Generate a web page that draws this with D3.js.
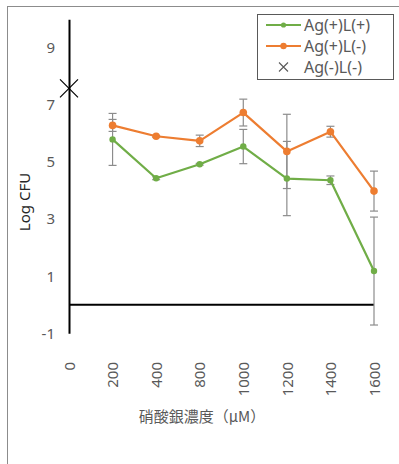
<!DOCTYPE html>
<html>
<head>
<meta charset="utf-8">
<script src="https://cdn.jsdelivr.net/npm/d3@7"></script>
<style>
  body { margin: 0; background: #fff; }
  text { font-family: "Noto Sans CJK JP", "Noto Sans", sans-serif; }
</style>
</head>
<body>
<div id="chart"></div>
<script>
// 硝酸銀濃度 categories (µM)
const categories = ['0', '200', '400', '800', '1000', '1200', '1400', '1600'];
const yTicks = [-1, 1, 3, 5, 7, 9];

// Ag(+)L(+)
const greenVals = [null, 5.79, 4.43, 4.92, 5.54, 4.42, 4.36, 1.18];
const greenErr  = [null, 0.91, 0.05, 0.03, 0.60, 1.30, 0.15, 1.89];
// Ag(+)L(-)
const orangeVals = [null, 6.28, 5.90, 5.74, 6.73, 5.37, 6.06, 3.98];
const orangeErr  = [null, 0.21, 0.03, 0.20, 0.47, 1.30, 0.19, 0.70];
// Ag(-)L(-)
const controlVals = [7.58, null, null, null, null, null, null, null];

const legendLabels = ['Ag(+)L(+)', 'Ag(+)L(-)', 'Ag(-)L(-)'];

const width = 399, height = 464;
const GREEN = '#70ad47', ORANGE = '#ed7d31', GREY = '#595959';

const svg = d3.select('#chart').append('svg')
    .attr('width', width)
    .attr('height', height);

// chart frame
svg.append('rect')
    .attr('x', 7.5).attr('y', 6.5)
    .attr('width', 420).attr('height', 500)
    .attr('fill', 'none')
    .attr('stroke', '#8c8c8c')
    .attr('stroke-width', 1);

const x = d3.scalePoint().domain(categories).range([69, 374]);
const y = d3.scaleLinear().domain([-1, 10]).range([333.3, 19.2]);

// y axis
const yAxis = svg.append('g')
    .attr('transform', 'translate(69,0)')
    .call(d3.axisLeft(y).tickValues(yTicks).tickFormat(d => String(d))
        .tickSize(0).tickSizeOuter(0).tickPadding(14));
yAxis.select('.domain').attr('stroke', '#000').attr('stroke-width', 2);
yAxis.selectAll('text')
    .attr('fill', GREY)
    .style('font-size', '15px')
    .style('font-family', '"Noto Sans", sans-serif');

// x axis: line at zero, labels below the plot
svg.append('line')
    .attr('x1', x('0')).attr('x2', x('1600'))
    .attr('y1', y(0)).attr('y2', y(0))
    .attr('stroke', '#000').attr('stroke-width', 2);

const xAxis = svg.append('g')
    .attr('transform', 'translate(0,356)')
    .call(d3.axisBottom(x).tickSize(0).tickPadding(0));
xAxis.select('.domain').remove();
xAxis.selectAll('text')
    .attr('fill', GREY)
    .style('font-size', '15px')
    .style('font-family', '"Noto Sans", sans-serif')
    .attr('text-anchor', 'end')
    .attr('dy', '0.35em')
    .attr('y', 0)
    .attr('transform', 'translate(0,6) rotate(-90)');

// axis titles
svg.append('text')
    .attr('transform', 'translate(30,202) rotate(-90)')
    .attr('text-anchor', 'middle')
    .attr('fill', '#262626')
    .style('font-size', '15px')
    .style('font-family', '"Noto Sans", sans-serif')
    .text('Log CFU');

svg.append('text')
    .attr('x', 202).attr('y', 422)
    .attr('text-anchor', 'middle')
    .attr('fill', GREY)
    .style('font-size', '15px')
    .text('硝酸銀濃度（μM）');

// error bars
function errorBars(vals, errs) {
    const pts = categories.map((c, i) => ({ c, v: vals[i], e: errs[i] })).filter(d => d.v != null);
    const g = svg.append('g').attr('stroke', '#8c8c8c').attr('stroke-width', 1.2);
    g.selectAll('line.v').data(pts).join('line')
        .attr('x1', d => x(d.c)).attr('x2', d => x(d.c))
        .attr('y1', d => y(d.v - d.e)).attr('y2', d => y(d.v + d.e));
    g.selectAll('line.t').data(pts).join('line')
        .attr('x1', d => x(d.c) - 4).attr('x2', d => x(d.c) + 4)
        .attr('y1', d => y(d.v + d.e)).attr('y2', d => y(d.v + d.e));
    g.selectAll('line.b').data(pts).join('line')
        .attr('x1', d => x(d.c) - 4).attr('x2', d => x(d.c) + 4)
        .attr('y1', d => y(d.v - d.e)).attr('y2', d => y(d.v - d.e));
}
errorBars(greenVals, greenErr);
errorBars(orangeVals, orangeErr);

// series lines
function series(vals, color, r) {
    const pts = categories.map((c, i) => ({ c, v: vals[i] })).filter(d => d.v != null);
    svg.append('path')
        .datum(pts)
        .attr('fill', 'none')
        .attr('stroke', color)
        .attr('stroke-width', 2.2)
        .attr('stroke-linejoin', 'round')
        .attr('d', d3.line().x(d => x(d.c)).y(d => y(d.v)));
    svg.append('g').selectAll('circle').data(pts).join('circle')
        .attr('cx', d => x(d.c)).attr('cy', d => y(d.v))
        .attr('r', r).attr('fill', color);
}
series(orangeVals, ORANGE, 3.8);
series(greenVals, GREEN, 3.2);

// control marker (×)
function cross(g, cx, cy, s) {
    g.append('path')
        .attr('d', `M${cx - s},${cy - s}L${cx + s},${cy + s}M${cx - s},${cy + s}L${cx + s},${cy - s}`)
        .attr('stroke', '#000').attr('stroke-width', 1.2).attr('fill', 'none');
}
categories.forEach((c, i) => {
    if (controlVals[i] != null) cross(svg, x(c), y(controlVals[i]), 9);
});

// legend
const legend = svg.append('g');
legend.append('rect')
    .attr('x', 257.5).attr('y', 14.5)
    .attr('width', 136).attr('height', 65)
    .attr('fill', '#fff')
    .attr('stroke', '#595959').attr('stroke-width', 1);

const rowsY = [25, 46, 67];
const colors = [GREEN, ORANGE, null];
legendLabels.forEach((lab, i) => {
    const ly = rowsY[i];
    if (colors[i]) {
        legend.append('line')
            .attr('x1', 266).attr('x2', 301).attr('y1', ly).attr('y2', ly)
            .attr('stroke', colors[i]).attr('stroke-width', 2);
        legend.append('circle')
            .attr('cx', 283.5).attr('cy', ly).attr('r', i === 0 ? 2.6 : 3.2)
            .attr('fill', colors[i]);
    } else {
        legend.append('path')
            .attr('d', `M${279},${ly - 4.5}L${288},${ly + 4.5}M${279},${ly + 4.5}L${288},${ly - 4.5}`)
            .attr('stroke', GREY).attr('stroke-width', 1.1);
    }
    legend.append('text')
        .attr('x', 304).attr('y', ly)
        .attr('dy', '0.35em')
        .attr('fill', GREY)
        .style('font-size', '16px')
        .style('font-family', '"Noto Sans", sans-serif')
        .text(lab);
});
</script>
</body>
</html>
